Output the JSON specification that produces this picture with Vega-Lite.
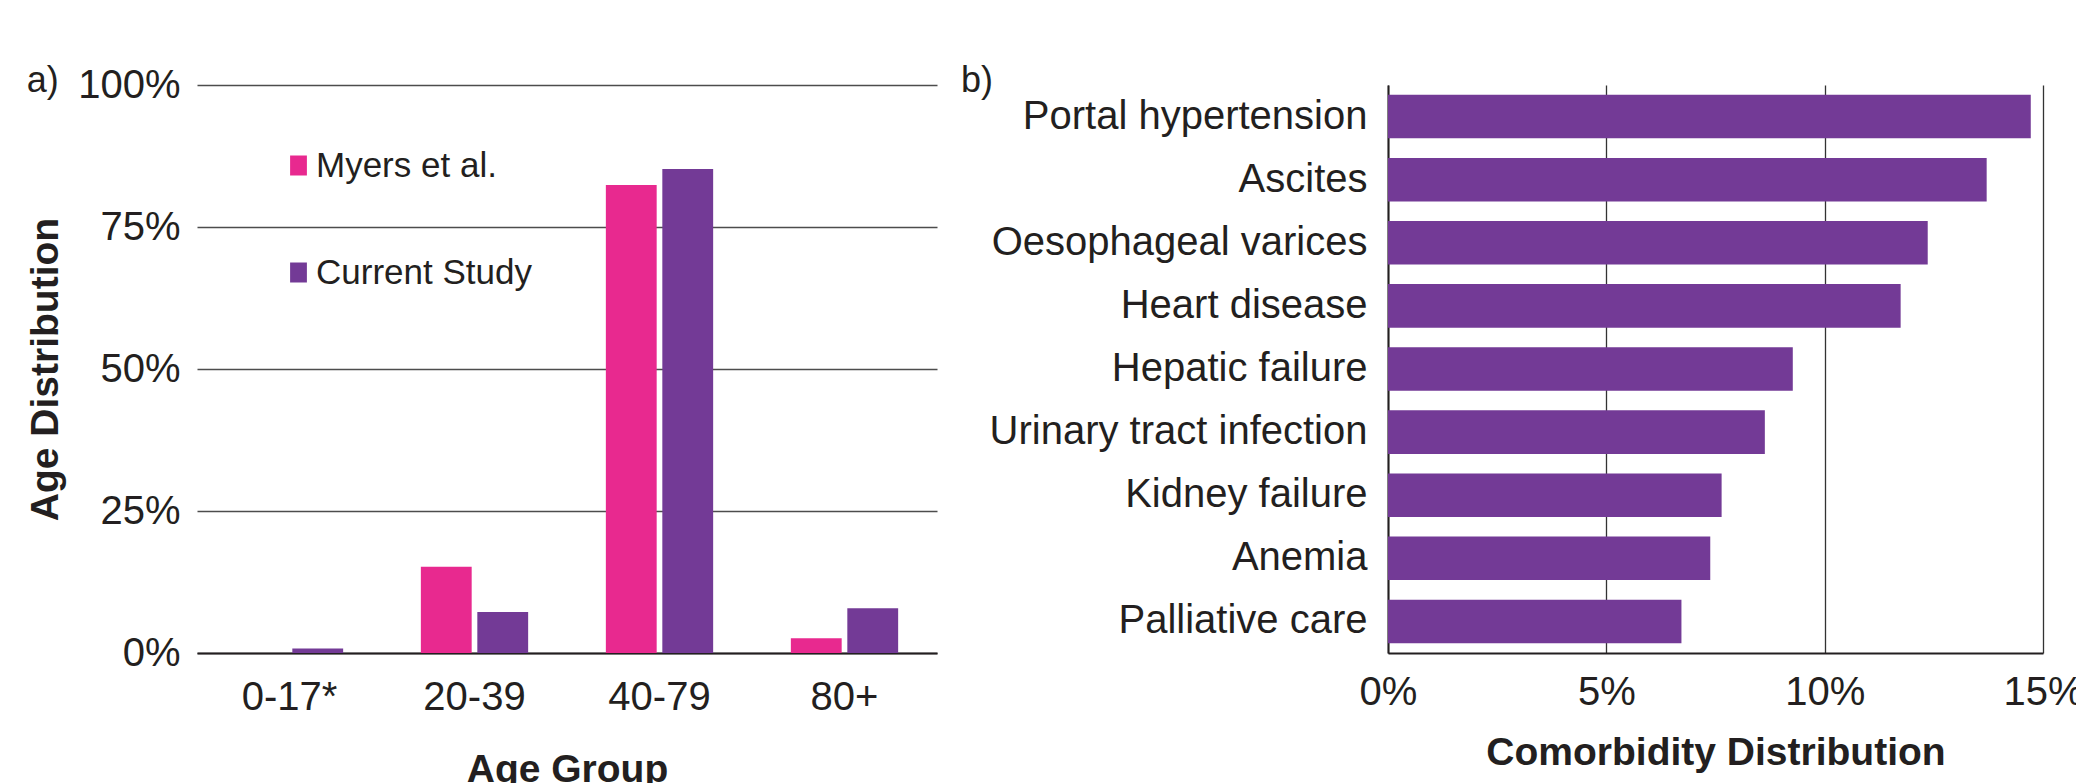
{
  "$schema": "https://vega.github.io/schema/vega-lite/v6.json",
  "background": "white",
  "padding": {"left": 26, "top": 63, "right": 0, "bottom": 0},
  "spacing": 24,
  "datasets": {
    "age": [
      {"group": "0-17*", "study": "Myers et al.", "pct": 0},
      {"group": "0-17*", "study": "Current Study", "pct": 0.008},
      {"group": "20-39", "study": "Myers et al.", "pct": 0.152},
      {"group": "20-39", "study": "Current Study", "pct": 0.072},
      {"group": "40-79", "study": "Myers et al.", "pct": 0.824},
      {"group": "40-79", "study": "Current Study", "pct": 0.852},
      {"group": "80+", "study": "Myers et al.", "pct": 0.026},
      {"group": "80+", "study": "Current Study", "pct": 0.079}
    ],
    "comorb": [
      {"condition": "Portal hypertension", "pct": 0.1472},
      {"condition": "Ascites", "pct": 0.1371},
      {"condition": "Oesophageal varices", "pct": 0.1236},
      {"condition": "Heart disease", "pct": 0.1174},
      {"condition": "Hepatic failure", "pct": 0.0927},
      {"condition": "Urinary tract infection", "pct": 0.0863},
      {"condition": "Kidney failure", "pct": 0.0764},
      {"condition": "Anemia", "pct": 0.0738},
      {"condition": "Palliative care", "pct": 0.0672}
    ]
  },
  "hconcat": [
    {
      "width": 740,
      "height": 568,
      "title": {"text": "a)", "anchor": "start", "frame": "bounds", "fontSize": 36, "fontWeight": "normal", "color": "#231f20", "offset": 0, "baseline": "alphabetic", "dy": 63},
      "data": {"name": "age"},
      "mark": {"type": "bar"},
      "encoding": {
        "x": {
          "field": "group", "type": "nominal", "sort": null,
          "scale": {"paddingInner": 0.42, "paddingOuter": 0.21},
          "axis": {"title": "Age Group", "labelAngle": 0, "ticks": false, "tickSize": 0, "labelPadding": 24, "titlePadding": 33, "domain": true, "domainColor": "#231f20", "domainWidth": 2}
        },
        "xOffset": {
          "field": "study", "type": "nominal", "sort": ["Myers et al.", "Current Study"],
          "scale": {"paddingInner": 0.1, "paddingOuter": 0}
        },
        "y": {
          "field": "pct", "type": "quantitative",
          "scale": {"domain": [0, 1]},
          "axis": {"title": "Age Distribution", "values": [0, 0.25, 0.5, 0.75, 1], "format": ".0%", "grid": true, "gridColor": "#4d4d4d", "gridWidth": 1.3, "domain": false, "ticks": false, "tickSize": 0, "labelPadding": 17, "titlePadding": 12}
        },
        "color": {
          "field": "study", "type": "nominal",
          "scale": {"domain": ["Myers et al.", "Current Study"], "range": ["#e8298f", "#733a96"]},
          "legend": {"title": null, "orient": "none", "legendX": 84, "legendY": 63, "symbolType": "M-0.84,-1L0.84,-1L0.84,1L-0.84,1Z", "symbolSize": 400, "symbolStrokeWidth": 0, "labelFontSize": 35, "labelOffset": 0, "rowPadding": 71, "labelColor": "#231f20", "labelLimit": 0, "padding": 0}
        }
      }
    },
    {
      "width": 655,
      "height": 568,
      "title": {"text": "b)", "anchor": "start", "frame": "bounds", "fontSize": 36, "fontWeight": "normal", "color": "#231f20", "offset": 0, "baseline": "alphabetic", "dy": 43, "dx": -28},
      "data": {"name": "comorb"},
      "mark": {"type": "bar", "color": "#733a96"},
      "encoding": {
        "y": {
          "field": "condition", "type": "nominal", "sort": null,
          "scale": {"paddingInner": 0.31, "paddingOuter": 0.155},
          "axis": {"title": null, "ticks": false, "tickSize": 0, "labelPadding": 21, "domain": true, "domainColor": "#231f20", "domainWidth": 2, "labelLimit": 0}
        },
        "x": {
          "field": "pct", "type": "quantitative",
          "scale": {"domain": [0, 0.15]},
          "axis": {"title": "Comorbidity Distribution", "values": [0, 0.05, 0.1, 0.15], "format": ".0%", "grid": true, "gridColor": "#333333", "gridWidth": 1.3, "ticks": false, "tickSize": 0, "labelPadding": 19, "titlePadding": 21, "labelFlush": false, "domain": true, "domainColor": "#231f20", "domainWidth": 2}
        }
      }
    }
  ],
  "config": {
    "font": "Liberation Sans",
    "view": {"stroke": null},
    "axis": {"labelFontSize": 40, "titleFontSize": 39, "titleFontWeight": "bold", "labelColor": "#231f20", "titleColor": "#231f20", "labelFont": "Liberation Sans", "titleFont": "Liberation Sans"},
    "legend": {"labelFont": "Liberation Sans"},
    "title": {"font": "Liberation Sans"}
  }
}
